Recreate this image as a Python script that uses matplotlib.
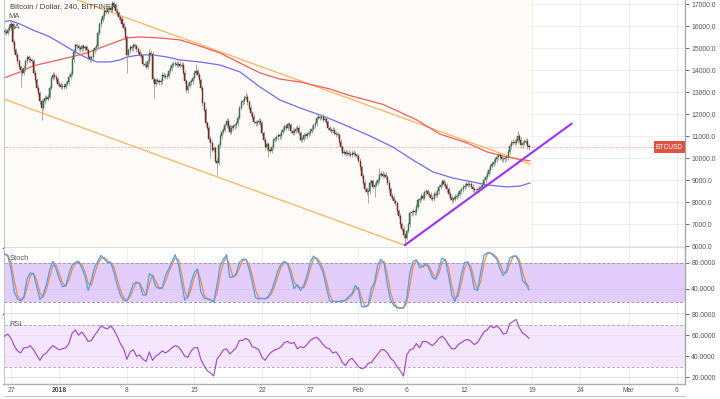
import numpy as np
import pandas as pd
import matplotlib
matplotlib.use("Agg")
import matplotlib.pyplot as plt

plt.rcParams['font.family'] = ['Liberation Sans', 'DejaVu Sans']

# ---------------- data ----------------
BASE = pd.Timestamp('2017-12-27 00:00')          # day 0 of the x axis
FIRST_BAR = '2017-12-26 08:00'                   # first visible 4h candle
first_open = 15800

closes = [
    15750, 15700, 15850, 15950,                          # Dec 26 (08-20h)
    16100, 15300, 14900, 14700, 14400, 14150,            # Dec 27
    14000, 13900, 14100, 14400, 14600, 14500,            # Dec 28
    14450, 14400, 13900, 13550, 13200, 12950,            # Dec 29
    12600, 12300, 12600, 12750, 12700, 12800,            # Dec 30
    13200, 13650, 13800, 13700, 13600, 13400,            # Dec 31
    13350, 13250, 13300, 13250, 13400, 13450,            # Jan 1
    13700, 13850, 14500, 14850, 15150, 15100,            # Jan 2
    15000, 14950, 15100, 15000, 15050, 14900,            # Jan 3
    14600, 14500, 14600, 14900, 15000, 15100,            # Jan 4
    15700, 16100, 16300, 16450, 16700, 16650,            # Jan 5
    16800, 16850, 16750, 17050, 16950, 16700,            # Jan 6
    16600, 16400, 16350, 16100, 15900, 15500,            # Jan 7
    14700, 14900, 15050, 15000, 15150, 15100,            # Jan 8
    14950, 14850, 14700, 14650, 14300, 14250,            # Jan 9
    14150, 14400, 14800, 14750, 13600, 13400,            # Jan 10
    13550, 13500, 13450, 13500, 13800, 13750,            # Jan 11
    13700, 13750, 13950, 14100, 14250, 14300,            # Jan 12
    14300, 14250, 14300, 14200, 14250, 13900,            # Jan 13
    13500, 13100, 13300, 13450, 13500, 13650,            # Jan 14
    13900, 13950, 13800, 13550, 13200, 12500,            # Jan 15
    12200, 11600, 11400, 10900, 10700, 10400,            # Jan 16
    10450, 9900, 9800, 10600, 11000, 11200,              # Jan 17
    11300, 11500, 11700, 11450, 11200, 11400,            # Jan 18
    11450, 11500, 11600, 11850, 12300, 12550,            # Jan 19
    12600, 12750, 12800, 12550, 12300, 12050,            # Jan 20
    11900, 11650, 11600, 11650, 11700, 11600,            # Jan 21
    11150, 10850, 10500, 10650, 10400, 10350,            # Jan 22
    10500, 10850, 10900, 10950, 11050, 11000,            # Jan 23
    11200, 11300, 11450, 11400, 11550, 11500,            # Jan 24
    11250, 11150, 11250, 11350, 11400, 11150,            # Jan 25
    10850, 10900, 11050, 11000, 11100, 11150,            # Jan 26
    11250, 11350, 11500, 11600, 11850, 11900,            # Jan 27
    11850, 11900, 11750, 11800, 11650, 11400,            # Jan 28
    11300, 11250, 11300, 11150, 11100, 11050,            # Jan 29
    10750, 10500, 10250, 10300, 10200, 10250,            # Jan 30
    10200, 10150, 10250, 10200, 10150, 10100,            # Jan 31
    9900, 9600, 9200, 8900, 8600, 8450,                  # Feb 1
    8500, 8900, 8950, 8700, 8800, 8900,                  # Feb 2
    9000, 9250, 9300, 9200, 9250, 9150,                  # Feb 3
    8900, 8600, 8300, 8200, 8050, 7950,                  # Feb 4
    7600, 7400, 7000, 6800, 6500, 6400,                  # Feb 5
    6700, 7000, 7500, 7550, 7600, 7550,                  # Feb 6
    7800, 8100, 8150, 8300, 8200, 8450,                  # Feb 7
    8500, 8400, 8350, 8200, 8150, 8400,                  # Feb 8
    8350, 8500, 8700, 8800, 8950, 8850,                  # Feb 9
    8750, 8600, 8400, 8200, 8100, 8150,                  # Feb 10
    8250, 8300, 8400, 8500, 8600, 8700,                  # Feb 11
    8750, 8850, 8800, 8850, 8700, 8600,                  # Feb 12
    8550, 8550, 8600, 8650, 8700, 8800,                  # Feb 13
    9000, 9150, 9300, 9450, 9650, 9750,                  # Feb 14
    9850, 9950, 10050, 10150, 10050, 9950,               # Feb 15
    9950, 10000, 10050, 10300, 10550, 10700,             # Feb 16
    10750, 10700, 10800, 11000, 10850, 10600,            # Feb 17
    10700, 10750, 10800, 10550, 10500,                   # Feb 18
]

# notable wick extremes
wick_highs = {'2017-12-27 00:00': 16250, '2018-01-06 12:00': 17150,
              '2018-01-10 08:00': 14950, '2018-01-15 04:00': 14300,
              '2018-01-20 08:00': 13000, '2018-02-03 04:00': 9550,
              '2018-02-17 12:00': 11250}
wick_lows = {'2017-12-28 00:00': 13250, '2017-12-30 04:00': 11750,
             '2018-01-08 00:00': 13900, '2018-01-10 20:00': 12750,
             '2018-01-14 04:00': 12950, '2018-01-16 16:00': 10000,
             '2018-01-17 08:00': 9250, '2018-01-22 16:00': 10050,
             '2018-02-02 00:00': 7950, '2018-02-02 16:00': 8250,
             '2018-02-05 20:00': 6050}

# moving averages (day offset from Dec 27, price)
blue_ma_days = [-0.73, -0.10, 0.93, 2.28, 4.04, 5.80, 6.84, 7.87, 8.91, 10.26, 11.29,
                12.02, 13.37, 14.71, 16.16, 17.51, 19.58, 21.65, 23.73, 25.80, 27.87,
                29.94, 32.01, 33.36, 36.88, 39.58, 41.65, 43.72, 45.79, 47.87, 49.32,
                51.39, 52.74, 53.77]
blue_ma_vals = [16210, 16255, 16105, 15830, 15515, 15060, 14790, 14560, 14380, 14380, 14470,
                14605, 14700, 14700, 14605, 14470, 14380, 14240, 13925, 13240, 12650,
                12290, 11970, 11740, 11080, 10510, 9920, 9380, 9100, 8920, 8790,
                8700, 8740, 8880]
red_ma_days = [-0.73, 0.93, 2.28, 4.04, 5.80, 7.87, 9.22, 10.57, 12.02, 13.37, 15.44,
               17.51, 19.58, 21.65, 23.73, 25.80, 27.87, 29.94, 33.05, 35.12, 38.54,
               40.30, 42.06, 44.45, 47.24, 49.32, 51.39, 53.77]
red_ma_vals = [13650, 13920, 14200, 14380, 14560, 14790, 15015, 15240, 15470, 15515, 15470,
               15380, 15100, 14790, 14330, 13880, 13600, 13470, 13150, 12850, 12450,
               12100, 11740, 11100, 10700, 10290, 10060, 9880]

# drawn trend lines (day offset, price)
upper_channel_days = [4.0, 53.77]
upper_channel_prices = [17650, 9741]
lower_channel_days = [-0.78, 40.92]
lower_channel_prices = [12700, 6030]
support_days = [40.82, 58.07]
support_prices = [6060, 11570]

# indicators, one value every 8 hours from FIRST_BAR
stoch_k = [93, 90, 70, 35, 24, 21, 28, 55, 64, 63, 43, 23, 30, 46, 68, 82, 70, 55, 43, 44,
           62, 76, 80, 82, 72, 59, 37, 53, 73, 82, 91, 85, 80, 80, 65, 45, 30, 22, 21, 32,
           47, 50, 47, 30, 30, 63, 59, 43, 40, 41, 60, 70, 81, 92, 78, 50, 22, 29, 50, 65,
           70, 35, 25, 24, 22, 19, 45, 75, 85, 92, 57, 58, 63, 80, 85, 85, 70, 50, 26, 24,
           25, 24, 28, 37, 52, 68, 78, 82, 77, 60, 40, 46, 37, 45, 60, 80, 90, 85, 76, 65,
           42, 21, 20, 20, 20, 21, 22, 28, 32, 45, 38, 12, 12, 15, 40, 50, 77, 85, 78, 45,
           22, 14, 10, 10, 10, 25, 65, 82, 84, 72, 74, 79, 70, 57, 54, 72, 87, 83, 60, 30,
           20, 36, 62, 80, 81, 66, 39, 37, 65, 91, 95, 95, 90, 85, 70, 60, 68, 86, 90, 90,
           79, 52, 47, 38]
rsi_vals = [59, 61, 57, 50, 45, 43, 48, 48, 50, 46, 41, 36, 41, 43, 47, 50, 48, 46, 47, 48,
            52, 62, 65, 60, 63, 59, 54, 55, 60, 64, 69, 67, 66, 69, 65, 59, 52, 47, 37, 44,
            46, 40, 41, 37, 35, 44, 36, 40, 42, 45, 43, 45, 48, 50, 49, 45, 40, 39, 45, 48,
            48, 37, 31, 26, 24, 21, 37, 41, 46, 47, 42, 45, 48, 55, 55, 57, 55, 49, 48, 46,
            39, 36, 41, 44, 46, 47, 49, 53, 54, 52, 53, 47, 49, 48, 51, 55, 57, 58, 55, 51,
            48, 47, 43, 44, 40, 34, 31, 36, 38, 34, 30, 28, 29, 33, 34, 38, 42, 46, 46, 43,
            38, 35, 30, 26, 21, 41, 46, 47, 52, 48, 54, 54, 52, 50, 53, 57, 59, 56, 51, 47,
            47, 51, 53, 55, 56, 54, 51, 53, 58, 63, 65, 69, 67, 69, 66, 61, 62, 71, 73, 75,
            67, 62, 60, 57]

last_price = 10500
price_ticks = list(range(6000, 17001, 1000))
stoch_ticks = [40, 80]
rsi_ticks = [20, 40, 60, 80]
date_tick_days = [0, 5, 12, 19, 26, 31, 36, 41, 47, 54, 59, 64, 69]
date_tick_labels = ['27', '2018', '8', '15', '22', '27', 'Feb', '6', '12', '19', '24', 'Mar', '6']

# ---------------- derived series ----------------
WICK_PAD = 110
times = pd.date_range(FIRST_BAR, periods=len(closes), freq='4h')
c = pd.Series(closes, index=times, dtype=float)
o = c.shift(1)
o.iloc[0] = first_open
hi = np.maximum(o, c) + WICK_PAD
lo = np.minimum(o, c) - WICK_PAD
for t, v in wick_highs.items():
    hi[pd.Timestamp(t)] = v
for t, v in wick_lows.items():
    lo[pd.Timestamp(t)] = v
xd = ((times - BASE) / pd.Timedelta('1D')).values

ind_times = pd.date_range(FIRST_BAR, periods=len(stoch_k), freq='8h')
ind_x = ((ind_times - BASE) / pd.Timedelta('1D')).values
k_line = pd.Series(stoch_k, dtype=float)
d_line = k_line.rolling(2, min_periods=1).mean()   # %D = smoothed %K

# ---------------- figure ----------------
W, H = 720, 399
fig = plt.figure(figsize=(7.2, 3.99), dpi=100)
fig.patch.set_facecolor('white')


def rect(x0, y0, x1, y1):
    return [x0 / W, 1 - y1 / H, (x1 - x0) / W, (y1 - y0) / H]


ax = fig.add_axes(rect(3.5, 0, 685, 248))
axs = fig.add_axes(rect(3.5, 248, 685, 314), sharex=ax)
axr = fig.add_axes(rect(3.5, 314, 685, 384), sharex=ax)

XL = (-0.777, 69.83)
GRID = '#eeeeee'
TICKC = '#555555'
FS = 4.9

for a in (ax, axs, axr):
    a.set_xlim(*XL)
    a.set_xticks(date_tick_days)
    for xv in date_tick_days:
        a.axvline(xv, color=GRID, lw=0.7, zorder=0)
    a.yaxis.tick_right()
    a.tick_params(axis='y', labelsize=FS, colors=TICKC, length=3, width=0.6, pad=1.5)
    a.tick_params(axis='x', length=0, labelbottom=False)
    a.spines['top'].set_visible(False)
    a.spines['left'].set_color('#c8c8c8')
    a.spines['left'].set_linewidth(0.8)
    a.spines['right'].set_color('#a8a8a8')
    a.spines['right'].set_linewidth(1.0)
    a.spines['bottom'].set_color('#6a6a6a')
    a.spines['bottom'].set_linewidth(1.0)

# ---- main price panel ----
ax.set_ylim(5924, 17195)
ax.set_yticks(price_ticks)
ax.set_yticklabels([f'{p:.1f}' for p in price_ticks])
for p in price_ticks:
    ax.axhline(p, color=GRID, lw=0.7, zorder=0)
ax.axvspan(XL[0], xd[-1] + 0.1, color='#fffbf8', zorder=0, lw=0)

ax.plot(upper_channel_days, upper_channel_prices, color='#ffb35c', lw=0.9, zorder=2)
ax.plot(lower_channel_days, lower_channel_prices, color='#ffb35c', lw=0.9, zorder=2)
ax.plot(blue_ma_days, blue_ma_vals, color='#6e6cff', lw=0.9, zorder=2)
ax.plot(red_ma_days, red_ma_vals, color='#f25c5c', lw=0.9, zorder=2)
ax.axhline(last_price, color='#f4a3a3', lw=0.7, ls=(0, (1.2, 1.2)), zorder=1)

ov, cv, hv, lv = o.values, c.values, hi.values, lo.values
up = cv >= ov
ax.vlines(xd, lv, hv, color='#9c9c9c', lw=0.6, zorder=3)
body_h = np.maximum(np.abs(cv - ov), 25)
ax.bar(xd, body_h, bottom=np.minimum(ov, cv), width=0.11,
       color=np.where(up, '#3f8a5a', '#9a3226'),
       edgecolor=np.where(up, '#245c38', '#5e1a12'), linewidth=0.3, zorder=4)
ax.plot(support_days, support_prices, color='#9b30ff', lw=1.5, zorder=5)

ax.text(XL[1] - 0.2, last_price, 'BTCUSD', ha='right', va='center', fontsize=4.8,
        color='white', zorder=6,
        bbox=dict(boxstyle='square,pad=0.35', fc='#e05340', ec='none'))

# ---- stochastic panel ----
axs.set_ylim(0.8, 102.3)
axs.set_yticks(stoch_ticks)
axs.set_yticklabels([f'{v:.4f}' for v in stoch_ticks])
axs.axhspan(20, 80, color='#e3cdfb', lw=0, zorder=0)
axs.axhline(40, color='#d8c2f0', lw=0.6, zorder=0.5)
for v in (20, 80):
    axs.axhline(v, color='#a596ad', lw=0.7, ls=(0, (3, 2)), zorder=1)
axs.plot(ind_x, d_line.values, color='#f28a4a', lw=0.9, zorder=3)
axs.plot(ind_x, k_line.values, color='#4aa0f2', lw=0.9, zorder=4)

# ---- RSI panel ----
axr.set_ylim(13.4, 80.2)
axr.set_yticks(rsi_ticks)
axr.set_yticklabels([f'{v:.4f}' for v in rsi_ticks])
axr.axhspan(30, 70, color='#f4e7fd', lw=0, zorder=0)
for v in (20, 40, 60):
    axr.axhline(v, color='#e6e0ea', lw=0.6, zorder=0.5)
for v in (30, 70):
    axr.axhline(v, color='#b9a9c2', lw=0.7, ls=(0, (3, 2)), zorder=1)
axr.plot(ind_x, rsi_vals, color='#a652c9', lw=0.9, zorder=3)
axr.spines['bottom'].set_color('#b0b0b0')

axr.tick_params(axis='x', labelbottom=True, labelsize=FS, colors=TICKC, pad=2.5)
axr.set_xticklabels(date_tick_labels)
for lab in axr.get_xticklabels():
    if lab.get_text() == '2018':
        lab.set_fontweight('bold')
        lab.set_color('#444444')

# ---- texts ----
def ftext(x, y, s, **kw):
    fig.text(x / W, 1 - y / H, s, va='center', ha='left', **kw)

ftext(9.5, 6.5, 'Bitcoin / Dollar, 240, BITFINEX', fontsize=5.6, color='#444444')
ftext(8.5, 16.5, 'MA', fontsize=5.6, color='#555555')
ftext(8.5, 27.5, 'MA', fontsize=5.6, color='#555555')
ftext(9.5, 258.5, 'Stoch', fontsize=5.4, color='#555555')
ftext(9.5, 324.5, 'RSI', fontsize=5.4, color='#555555')

fig.add_artist(plt.Line2D([3.5 / W, 685 / W], [1 - 396 / H, 1 - 396 / H],
                          color='#c8c8c8', lw=0.8))

fig.savefig('out.png', dpi=100, facecolor='white')
